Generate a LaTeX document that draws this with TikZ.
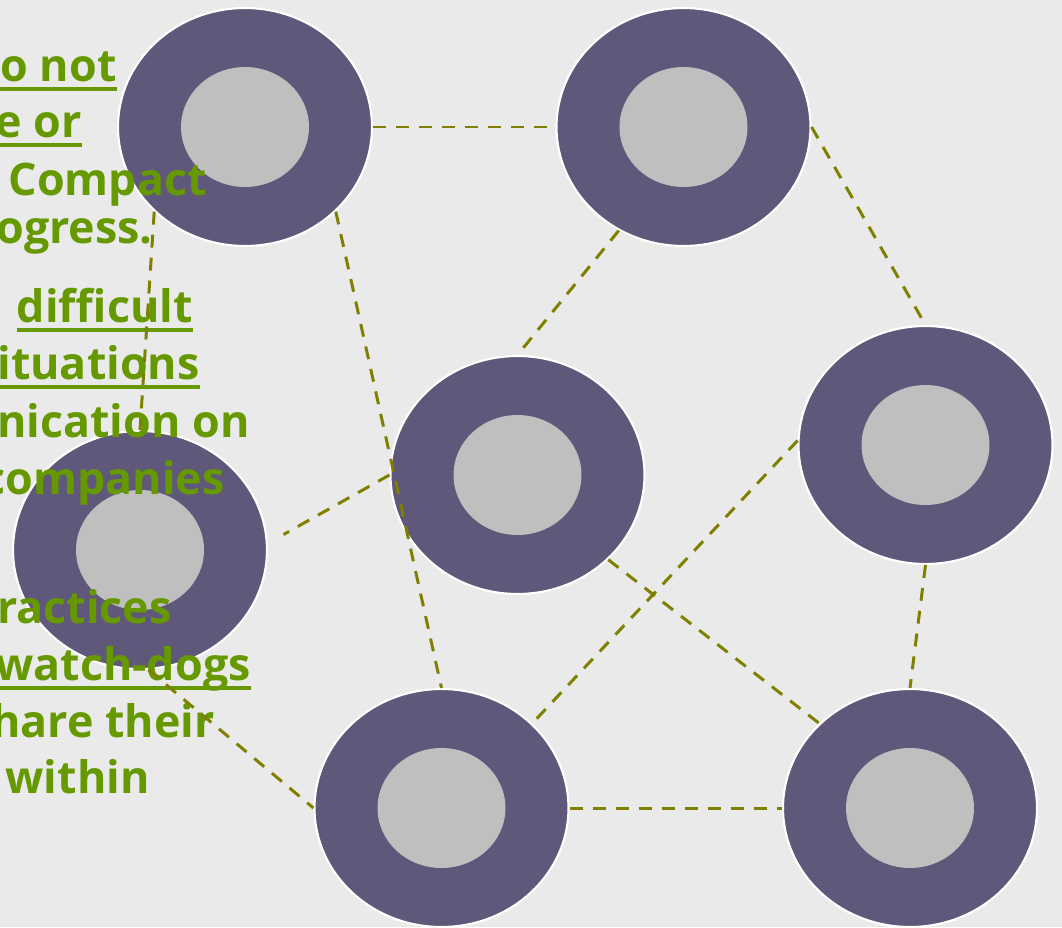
\documentclass[tikz,border=0pt]{standalone}
\usepackage{fontspec}
\setmainfont{Open Sans}
\usetikzlibrary{shapes.geometric,calc}
\definecolor{bgcol}{RGB}{234,234,234}
\definecolor{ringcol}{RGB}{95,88,122}
\definecolor{innercol}{RGB}{191,191,191}
\definecolor{txtcol}{RGB}{102,153,0}
\definecolor{linkcol}{RGB}{128,128,0}
\newcommand\ulw[1]{\setbox0\hbox{#1}\rlap{\rule[-5.7pt]{\wd0}{2.3pt}}\box0}
\newcommand\ull[1]{\setbox0\hbox{#1}\rlap{\hskip-3cm\rule[-5.7pt]{\dimexpr\wd0+3cm\relax}{2.3pt}}\box0}
\tikzset{
  ring/.style={ellipse, fill=ringcol, draw=white, line width=1.2pt, inner sep=0pt,
    minimum width=5.08cm, minimum height=4.76cm},
  core/.style={ellipse, fill=innercol, inner sep=0pt,
    minimum width=2.56cm, minimum height=2.4cm},
  txt/.style={anchor=base east, inner sep=0pt, text=txtcol,
    font=\fontsize{25.5pt}{33pt}\selectfont\bfseries},
  link/.style={draw=linkcol, line width=1.7pt, dash pattern=on 7.4pt off 5.7pt}
}
\begin{document}
\begin{tikzpicture}[x=0.02cm,y=-0.02cm]
\useasboundingbox (0,0) rectangle (1062,927);
\fill[bgcol] (0,0) rectangle (1062,927);
\clip (0,0) rectangle (1062,927);
% rings
\node[ring] (A) at (245,127) {};
\node[ring] (B) at (683.5,127) {};
\node[ring] (C) at (517.5,475) {};
\node[ring] (D) at (925.5,445) {};
\node[ring] (E) at (140,550) {};
\node[ring] (F) at (441.5,808) {};
\node[ring] (G) at (910,808) {};
\foreach \n in {A,B,C,D,E,F,G}{\node[core] (\n i) at (\n) {};}
% text
\node[txt] (t1) at (117,81) {\ull{o not}};
\node[txt] (t2) at (82,137) {\ull{e or}};
\node[txt] (t3) at (207,195) {Compact};
\node[txt] (t4) at (153,243) {ogress.};
\node[txt] (t5) at (193,322) {\ulw{difficult}};
\node[txt] (t6) at (200,379) {\ull{situations}};
\node[txt] (t7) at (250,437) {nication on};
\node[txt] (t8) at (225,494) {companies};
\node[txt] (t9) at (172,623) {ractices};
\node[txt] (t10) at (251,680) {\ull{watch-dogs}};
\node[txt] (t11) at (215,737) {hare their};
\node[txt] (t12) at (150,793) {within};
% links
\draw[link] (A.east) -- (B.west);
\draw[link] (B.east) -- (D.north);
\draw[link] (B.238) -- (C.north);
\draw[link] (A.-43) -- (F.north);
\draw[link] (A.223) -- (E.north);
\draw[link, shorten >=0.36cm] (C.west) -- (E.3);
\draw[link] (C.-43) -- (G.137);
\draw[link] (D.178) -- (F.43);
\draw[link] (D.south) -- (G.north);
\draw[link] (F.east) -- (G.west);
\draw[link] (E.-86) -- (F.west);
\end{tikzpicture}
\end{document}
